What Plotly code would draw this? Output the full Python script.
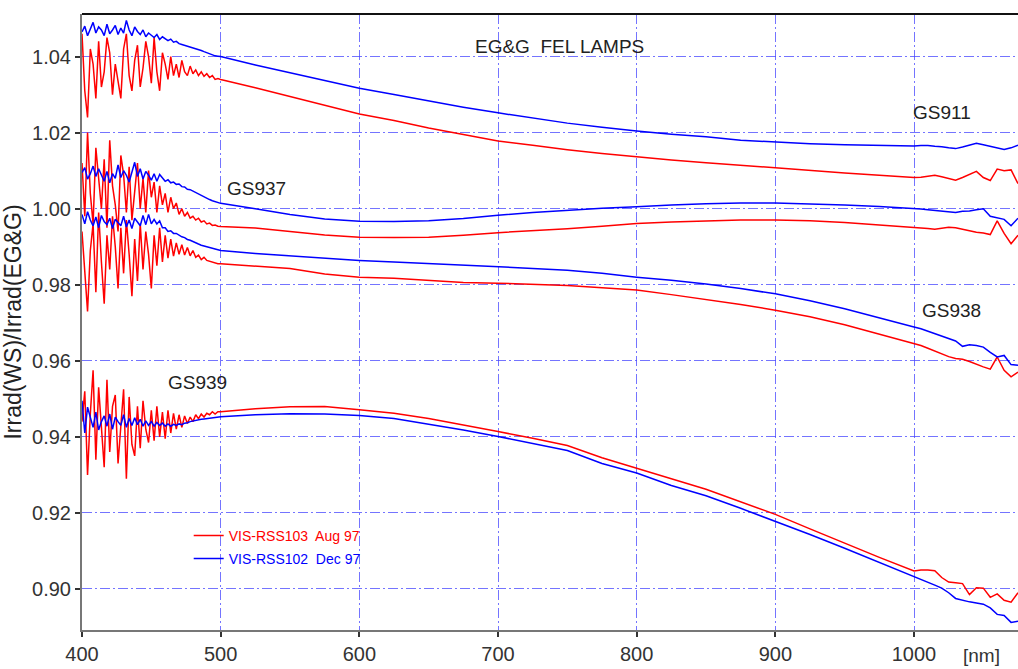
import plotly.graph_objects as go

# wavelength grid [nm]
wl = list(range(400, 500, 2)) + list(range(500, 1001, 25)) + list(range(1005, 1076, 5))

gs911_aug = [1.046, 1.031, 1.024, 1.042, 1.038, 1.029, 1.044, 1.032, 1.036, 1.045,
             1.041, 1.030, 1.038, 1.034, 1.029, 1.042, 1.046, 1.035, 1.031, 1.039,
             1.043, 1.032, 1.037, 1.044, 1.040, 1.033, 1.045, 1.036, 1.031, 1.041,
             1.038, 1.034, 1.040, 1.035, 1.038, 1.0345, 1.039, 1.036, 1.035, 1.0375,
             1.0355, 1.0365, 1.0350, 1.036, 1.0348, 1.0355, 1.0345, 1.035, 1.0340, 1.0342,
             1.0340, 1.0318, 1.0295, 1.0272, 1.0249, 1.0232, 1.0212, 1.0195, 1.0178, 1.0167,
             1.0155, 1.0145, 1.0136, 1.0128, 1.0121, 1.0114, 1.0108, 1.0100, 1.0094, 1.0088,
             1.0082,
             1.0083, 1.0086, 1.0088, 1.0084, 1.0080, 1.0075, 1.0082, 1.0090, 1.0098, 1.0082,
             1.0074, 1.0104, 1.0100, 1.0102, 1.0066]
gs911_dec = [1.0465, 1.0480, 1.0455, 1.0472, 1.0490, 1.0462, 1.0478, 1.0470, 1.0455, 1.0485,
             1.0460, 1.0470, 1.0482, 1.0458, 1.0475, 1.0462, 1.0495, 1.0470, 1.0455, 1.0478,
             1.0466, 1.0458, 1.0470, 1.0452, 1.0462, 1.0456, 1.0450, 1.0458, 1.0445, 1.0452,
             1.0448, 1.0442, 1.0446, 1.0438, 1.0440, 1.0434, 1.0432, 1.0430, 1.0426, 1.0425,
             1.0422, 1.0420, 1.0418, 1.0416, 1.0413, 1.0410, 1.0408, 1.0405, 1.0402, 1.0401,
             1.0400, 1.0378, 1.0357, 1.0337, 1.0317, 1.0300, 1.0283, 1.0267, 1.0252, 1.0238,
             1.0225, 1.0214, 1.0204, 1.0196, 1.0189, 1.0180, 1.0175, 1.0171, 1.0168, 1.0166,
             1.0165,
             1.0166, 1.0166, 1.0164, 1.0163, 1.0160, 1.0158, 1.0162, 1.0168, 1.0172, 1.0168,
             1.0164, 1.0158, 1.0156, 1.0160, 1.0167]
gs937_aug = [1.012, 0.998, 1.020, 1.004, 0.996, 1.016, 1.008, 1.000, 1.013, 0.995,
             1.018, 1.006, 1.001, 0.994, 1.014, 1.009, 0.999, 1.011, 0.997, 1.005,
             1.012, 1.000, 1.008, 0.999, 1.010, 1.003, 1.007, 0.999, 1.006, 1.001,
             1.004, 0.999, 1.003, 1.000, 1.0015, 0.9985, 1.000, 0.998, 0.9990, 0.9975,
             0.998, 0.997, 0.9975, 0.9965, 0.9968, 0.996, 0.9962, 0.9956, 0.9957, 0.9954,
             0.9953, 0.9949, 0.9940, 0.9931, 0.9925, 0.9924, 0.9925, 0.9930, 0.9937, 0.9942,
             0.9947, 0.9954, 0.9961, 0.9965, 0.9968, 0.9970, 0.9970, 0.9968, 0.9964, 0.9958,
             0.9952,
             0.9950, 0.9948, 0.9946, 0.9948, 0.9951, 0.9950, 0.9945, 0.9942, 0.9938, 0.9936,
             0.9932, 0.9968, 0.9935, 0.9908, 0.9930]
gs937_dec = [1.0095, 1.0108, 1.0078, 1.0092, 1.0112, 1.0085, 1.0105, 1.0090, 1.0072, 1.0098,
             1.0068, 1.0092, 1.0080, 1.0115, 1.0082, 1.0100, 1.0088, 1.0070, 1.0095, 1.0122,
             1.0085, 1.0105, 1.0078, 1.0098, 1.0088, 1.0075, 1.0092, 1.0072, 1.0090, 1.0080,
             1.0072, 1.0076, 1.0068, 1.0070, 1.0064, 1.0065, 1.0058, 1.0057, 1.0051, 1.0050,
             1.0046, 1.0042, 1.0038, 1.0034, 1.0030, 1.0027, 1.0024, 1.0021, 1.0018, 1.0016,
             1.0014, 1.0000, 0.9985, 0.9973, 0.9967, 0.9966, 0.9968, 0.9974, 0.9983, 0.9990,
             0.9996, 1.0001, 1.0005, 1.0010, 1.0013, 1.0015, 1.0015, 1.0013, 1.0010, 1.0006,
             1.0001,
             0.9999, 0.9997, 0.9995, 0.9994, 0.9992, 0.9990, 0.9993, 0.9994, 0.9997, 1.0000,
             0.9980, 0.9976, 0.9972, 0.9955, 0.9975]
gs938_aug = [0.994, 0.982, 0.973, 0.989, 0.996, 0.978, 0.999, 0.986, 0.975, 0.993,
             0.984, 0.998, 0.990, 0.979, 0.995, 0.983, 0.997, 0.988, 0.977, 0.992,
             0.981, 0.996, 0.984, 0.994, 0.988, 0.979, 0.993, 0.985, 0.995, 0.986,
             0.993, 0.987, 0.992, 0.9875, 0.991, 0.988, 0.9905, 0.9878, 0.9898, 0.9876,
             0.989, 0.9872, 0.9878, 0.9866, 0.9872, 0.9864, 0.9862, 0.9860, 0.9856, 0.9855,
             0.9855, 0.9849, 0.9843, 0.9828, 0.9820, 0.9817, 0.9812, 0.9806, 0.9804, 0.9801,
             0.9798, 0.9792, 0.9786, 0.9774, 0.9762, 0.9748, 0.9733, 0.9716, 0.9695, 0.9670,
             0.9646,
             0.9640, 0.9633, 0.9625, 0.9617, 0.9611, 0.9606, 0.9604, 0.9598, 0.9590, 0.9584,
             0.9578, 0.9610, 0.9575, 0.9558, 0.9570]
gs938_dec = [0.9985, 0.9960, 0.9992, 0.9970, 0.9955, 0.9978, 0.9950, 0.9982, 0.9966, 0.9958,
             0.9975, 0.9948, 0.9972, 0.9962, 0.9955, 0.9980, 0.9952, 0.9970, 0.9948, 0.9975,
             0.9965, 0.9955, 0.9982, 0.9958, 0.9985, 0.9960, 0.9972, 0.9960, 0.9968, 0.9950,
             0.9950, 0.9940, 0.9942, 0.9935, 0.9935, 0.9930, 0.9926, 0.9924, 0.9919, 0.9917,
             0.9913, 0.9910, 0.9907, 0.9904, 0.9902, 0.9899, 0.9897, 0.9895, 0.9893, 0.9891,
             0.9890, 0.9882, 0.9876, 0.9870, 0.9864, 0.9860, 0.9856, 0.9852, 0.9848, 0.9843,
             0.9838, 0.9830, 0.9820, 0.9812, 0.9802, 0.9790, 0.9776, 0.9758, 0.9737, 0.9714,
             0.9689,
             0.9684, 0.9678, 0.9672, 0.9666, 0.9660, 0.9652, 0.9638, 0.9642, 0.9640, 0.9636,
             0.9622, 0.9610, 0.9614, 0.9590, 0.9588]
gs939_aug = [0.9440, 0.9520, 0.9300, 0.9460, 0.9575, 0.9340, 0.9530, 0.9410, 0.9320, 0.9550,
             0.9360, 0.9480, 0.9510, 0.9330, 0.9420, 0.9525, 0.9290, 0.9505, 0.9380, 0.9350,
             0.9480, 0.9370, 0.9495, 0.9420, 0.9385, 0.9470, 0.9390, 0.9480, 0.9400, 0.9465,
             0.9395, 0.9470, 0.9410, 0.9462, 0.9420, 0.9458, 0.9425, 0.9455, 0.9435, 0.9452,
             0.9440, 0.9458, 0.9448, 0.9460, 0.9452, 0.9462, 0.9458, 0.9466, 0.9460, 0.9466,
             0.9466, 0.9474, 0.9479, 0.9480, 0.9471, 0.9462, 0.9448, 0.9432, 0.9414, 0.9396,
             0.9377, 0.9345, 0.9318, 0.9290, 0.9262, 0.9230, 0.9196, 0.9158, 0.9120, 0.9083,
             0.9047,
             0.9050, 0.9050, 0.9048, 0.9030, 0.9018, 0.9016, 0.9014, 0.8985, 0.9003, 0.9002,
             0.8978, 0.8987, 0.8970, 0.8965, 0.8990]
gs939_dec = [0.9495, 0.9410, 0.9478, 0.9450, 0.9425, 0.9465, 0.9418, 0.9440, 0.9455, 0.9428,
             0.9460, 0.9420, 0.9452, 0.9440, 0.9430, 0.9458, 0.9425, 0.9448, 0.9430, 0.9450,
             0.9432, 0.9446, 0.9428, 0.9442, 0.9430, 0.9440, 0.9428, 0.9438, 0.9430, 0.9436,
             0.9428, 0.9434, 0.9428, 0.9433, 0.9430, 0.9434, 0.9432, 0.9436, 0.9437, 0.9440,
             0.9442, 0.9443, 0.9445, 0.9446, 0.9447, 0.9448, 0.9450, 0.9450, 0.9452, 0.9452,
             0.9453, 0.9458, 0.9461, 0.9460, 0.9456, 0.9448, 0.9434, 0.9418, 0.9401, 0.9382,
             0.9364, 0.9330, 0.9305, 0.9272, 0.9245, 0.9212, 0.9178, 0.9143, 0.9107, 0.9070,
             0.9034,
             0.9026, 0.9018, 0.9010, 0.9002, 0.8990, 0.8975, 0.8970, 0.8966, 0.8963, 0.8960,
             0.8950, 0.8933, 0.8930, 0.8912, 0.8915]

red_series = [gs911_aug, gs937_aug, gs938_aug, gs939_aug]
blue_series = [gs911_dec, gs937_dec, gs938_dec, gs939_dec]

lamp_labels = ["GS911", "GS937", "GS938", "GS939"]
label_x = [1020, 526, 1027, 483]
label_y = [1.0252, 1.0054, 0.9732, 0.9543]

RED = "rgb(255,0,0)"
BLUE = "rgb(0,0,255)"
FONT = "Liberation Sans, Arial, sans-serif"

fig = go.Figure()
for i, ys in enumerate(red_series):
    fig.add_trace(go.Scatter(x=wl, y=ys, mode="lines", line=dict(color=RED, width=1.5),
                             name="VIS-RSS103  Aug 97", legend="legend",
                             showlegend=(i == 0)))
for i, ys in enumerate(blue_series):
    fig.add_trace(go.Scatter(x=wl, y=ys, mode="lines", line=dict(color=BLUE, width=1.5),
                             name="VIS-RSS102  Dec 97", legend="legend2",
                             showlegend=(i == 0)))

for t, x, y in zip(lamp_labels, label_x, label_y):
    fig.add_annotation(x=x, y=y, text=t, showarrow=False, xanchor="center", yanchor="middle",
                       font=dict(family=FONT, size=19, color="#222"))
fig.add_annotation(x=744, y=1.0426, text="EG&amp;G  FEL LAMPS", showarrow=False,
                   xanchor="center", yanchor="middle",
                   font=dict(family=FONT, size=19, color="#222"))
fig.add_annotation(x=0.9615, y=-0.042, xref="paper", yref="paper", text="[nm]",
                   showarrow=False, xanchor="center", yanchor="middle",
                   font=dict(family=FONT, size=19, color="#333"))

grid_col = "rgba(70,70,255,0.75)"
fig.update_xaxes(range=[400, 1075], tickvals=[400, 500, 600, 700, 800, 900, 1000],
                 showgrid=True, gridcolor=grid_col, gridwidth=1, griddash="10px,3px,2px,3px",
                 showline=True, linecolor="#777", linewidth=2,
                 ticks="outside", ticklen=5, tickwidth=2, tickcolor="#333",
                 tickfont=dict(family=FONT, size=20, color="#333"), zeroline=False)
fig.update_yaxes(range=[0.8892, 1.0512],
                 tickvals=[0.90, 0.92, 0.94, 0.96, 0.98, 1.00, 1.02, 1.04],
                 ticktext=["0.90", "0.92", "0.94", "0.96", "0.98", "1.00", "1.02", "1.04"],
                 showgrid=True, gridcolor=grid_col, gridwidth=1, griddash="10px,3px,2px,3px",
                 showline=True, linecolor="#777", linewidth=2,
                 ticks="outside", ticklen=5, tickwidth=2, tickcolor="#333",
                 tickfont=dict(family=FONT, size=20, color="#333"), zeroline=False,
                 title=dict(text="Irrad(WS)/Irrad(EG&amp;G)", standoff=4,
                            font=dict(family=FONT, size=23, color="#222")))

fig.add_shape(type="line", xref="paper", yref="paper", x0=0, x1=1, y0=1, y1=1,
              line=dict(color="#111", width=2))

fig.update_layout(
    width=1018, height=669,
    margin=dict(l=82, r=0, t=14, b=39),
    plot_bgcolor="white", paper_bgcolor="white",
    legend=dict(x=0.114, y=0.1526, xanchor="left", yanchor="middle",
                bgcolor="rgba(0,0,0,0)", font=dict(family=FONT, size=14, color=RED)),
    legend2=dict(x=0.114, y=0.1153, xanchor="left", yanchor="middle",
                 bgcolor="rgba(0,0,0,0)", font=dict(family=FONT, size=14, color=BLUE)),
)

fig.write_html("out.html", config={"displayModeBar": False},
               post_script="document.body.style.margin='0';document.body.style.overflow='hidden';")
